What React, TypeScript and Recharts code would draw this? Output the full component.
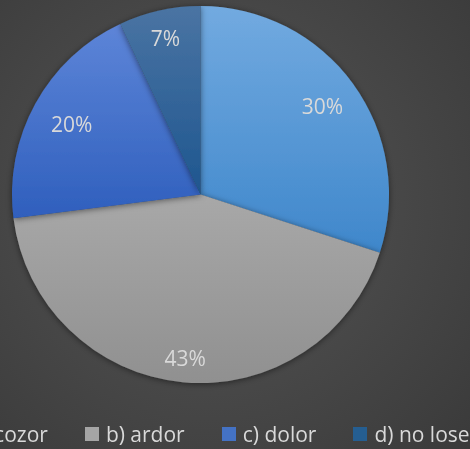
import React from "react";
import { PieChart, Pie, Cell, Legend } from "recharts";

const categories = ["a) escozor", "b) ardor", "c) dolor", "d) no lose"];
const values = [30, 43, 20, 7];
const percentLabels = ["30%", "43%", "20%", "7%"];

const data = categories.map((name, i) => ({ name, value: values[i], label: percentLabels[i] }));

const GRADS = [
  { id: "gA", top: "#72aae0", bottom: "#3f87cb", solid: "#5b9bd5" },
  { id: "gB", top: "#a8a8a8", bottom: "#909090", solid: "#a5a5a5" },
  { id: "gC", top: "#5d85d8", bottom: "#2f5fbd", solid: "#4472c4" },
  { id: "gD", top: "#4a74a3", bottom: "#1e568f", solid: "#255e91" },
];
const LABEL_R = [0.8, 0.87, 0.78, 0.85];
const FONT = "'Open Sans', 'DejaVu Sans', sans-serif";

const renderLabel = (p: any) => {
  const RAD = Math.PI / 180;
  const r = p.outerRadius * LABEL_R[p.index];
  const x = p.cx + r * Math.cos(-p.midAngle * RAD);
  const y = p.cy + r * Math.sin(-p.midAngle * RAD);
  return (
    <text x={x} y={y} fill="#d9d9d9" fontSize={21} fontFamily={FONT} textAnchor="middle" dominantBaseline="central">
      {p.payload.label}
    </text>
  );
};

const LegendContent = (props: any) => {
  const payload = props.payload || [];
  return (
    <div style={{ display: "flex", flexDirection: "row", alignItems: "center", whiteSpace: "nowrap", fontFamily: FONT, fontSize: 21, color: "#d9d9d9" }}>
      {payload.map((e: any, i: number) => (
        <div key={i} style={{ display: "flex", alignItems: "center", marginRight: 37 }}>
          <div style={{ width: 14, height: 14, background: GRADS[i].solid, marginRight: 7 }} />
          <span>{e.value}</span>
        </div>
      ))}
    </div>
  );
};

export default function App() {
  return (
    <div style={{ position: "fixed", left: 0, top: 0, width: 470, height: 449, overflow: "hidden", background: "radial-gradient(circle at 45% 45%, #555555 0%, #484848 50%, #3a3a3a 100%)" }}>
      <PieChart width={470} height={449} margin={{ top: 0, right: 0, bottom: 0, left: 0 }} style={{ overflow: "visible" }}>
        <defs>
          {GRADS.map((g) => (
            <linearGradient key={g.id} id={g.id} x1="0" y1="0" x2="0" y2="1">
              <stop offset="0%" stopColor={g.top} />
              <stop offset="100%" stopColor={g.bottom} />
            </linearGradient>
          ))}
          <filter id="shadow" x="-20%" y="-20%" width="140%" height="140%">
            <feDropShadow dx="0" dy="1" stdDeviation="3" floodColor="#000" floodOpacity="0.5" />
          </filter>
        </defs>
        <Pie
          data={data}
          dataKey="value"
          nameKey="name"
          cx={200.5}
          cy={194.5}
          outerRadius={188.5}
          startAngle={90}
          endAngle={-270}
          stroke="none"
          label={renderLabel}
          labelLine={false}
          isAnimationActive={false}
          style={{ filter: "url(#shadow)" }}
        >
          {data.map((d, i) => (
            <Cell key={d.name} fill={`url(#${GRADS[i].id})`} />
          ))}
        </Pie>
        <Legend
          content={<LegendContent />}
          wrapperStyle={{ position: "absolute", left: -72, top: 420, width: 800, height: 28 }}
        />
      </PieChart>
    </div>
  );
}
